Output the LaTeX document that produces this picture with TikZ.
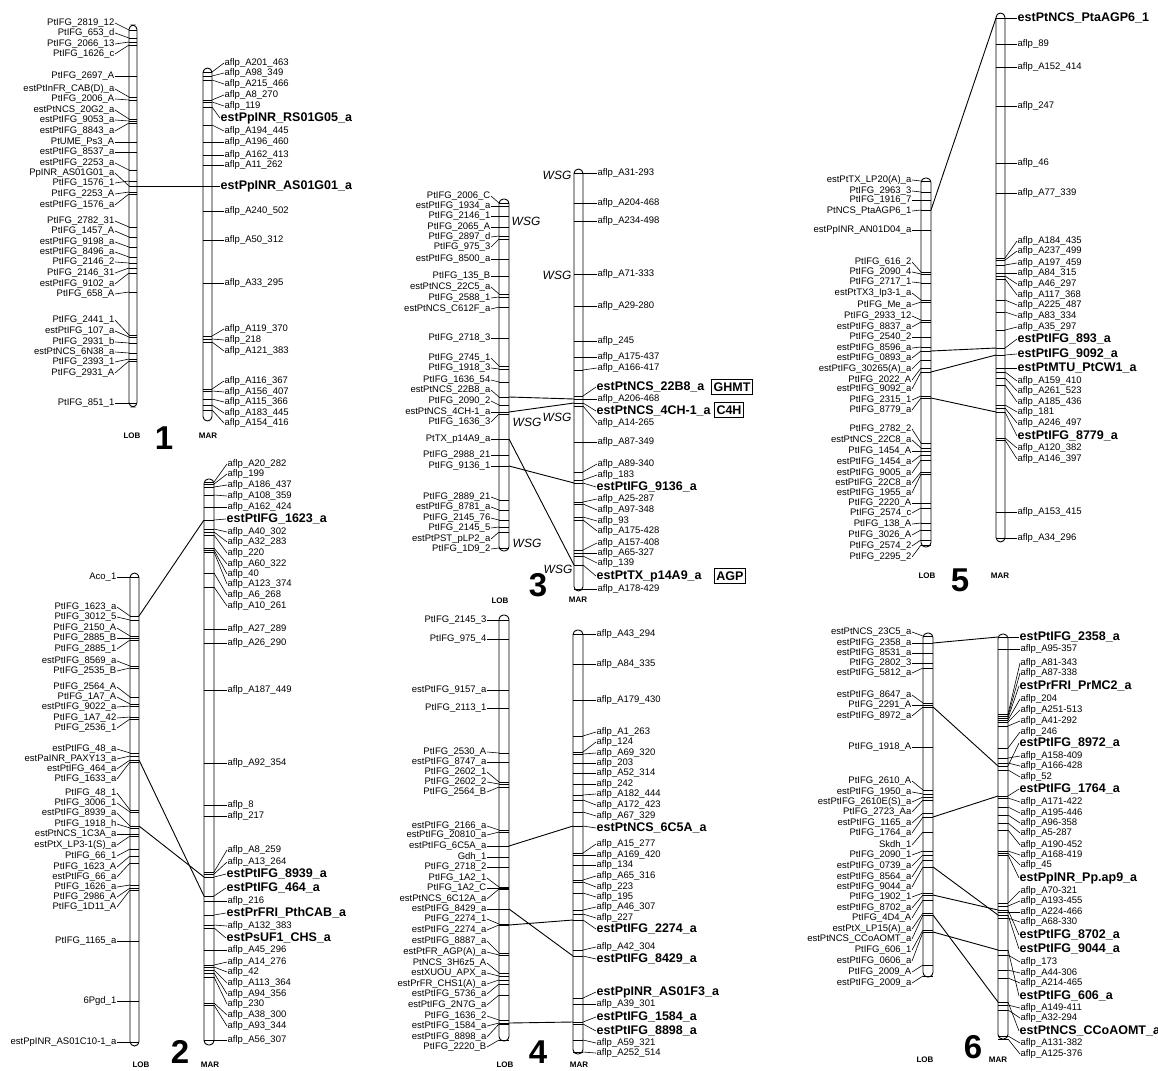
\documentclass[tikz,border=0pt]{standalone}
\usepackage{fontspec}
\setmainfont{Liberation Sans}
\newcommand\lmarks[5]{%
  \foreach \ly/\ty/\t [count=\i] in {#5}{%
    \node[sl,anchor=east] (#1\i) at (#2,\ly) {\t};
    \coordinate (#1t\i) at (#3,\ty);
    \draw[tickln] (#3,\ty) -- (#4,\ty);
    \draw[leader] (#1\i.east) -- (#1t\i);
  }}
\newcommand\rmarks[6]{%
  \foreach \ly/\ty/\t [count=\i] in {#6}{%
    \node[#2,anchor=west] (#1\i) at (#3,\ly) {\t};
    \coordinate (#1t\i) at (#5,\ty);
    \draw[tickln] (#4,\ty) -- (#5,\ty);
    \draw[leader] (#1t\i) -- (#1\i.west);
  }}
\begin{document}
\catcode`\_=12
\begin{tikzpicture}[x=1pt,y=-1pt,
  chrom/.style={draw,line width=0.9pt,rounded corners=4.5pt,inner sep=0pt},
  tickln/.style={line width=0.8pt},
  leader/.style={line width=0.6pt},
  link/.style={line width=0.9pt},
  sl/.style={font=\fontsize{9.5}{10}\selectfont,inner sep=0.5pt},
  bl/.style={font=\fontsize{12.5}{13}\selectfont\bfseries,inner sep=0.5pt},
  captxt/.style={font=\fontsize{8}{8}\selectfont\bfseries,inner sep=0pt},
  num/.style={font=\fontsize{33}{33}\selectfont\bfseries,inner sep=0pt},
  wsg/.style={font=\fontsize{12}{12}\selectfont\itshape,inner sep=0pt},
  gbox/.style={draw,line width=0.9pt,font=\fontsize{12.5}{13}\selectfont\bfseries,inner sep=1.8pt,minimum height=15pt}]
\fill[white] (0,0) rectangle (1158,1070);
\useasboundingbox (0,0) rectangle (1158,1070);

% ---------------- Panel 1 ----------------
\lmarks{aL}{115}{129}{137}{23/30/PtIFG_2819_12, 33/38/PtIFG_653_d, 44/42/PtIFG_2066_13, 54/45/PtIFG_1626_c, 76/76/PtIFG_2697_A, 89/97/estPtInFR_CAB(D)_a, 99/100/PtIFG_2006_A, 110/119/estPtNCS_20G2_a, 120/121/estPtIFG_9053_a, 131/123/estPtIFG_8843_a, 142/142/PtUME_Ps3_A, 152/152/estPtIFG_8537_a, 163/170/estPtIFG_2253_a, 173/186/PpINR_AS01G01_a, 183/181/PtIFG_1576_1, 194/192/PtIFG_2253_A, 205/194/estPtIFG_1576_a, 221/227/PtIFG_2782_31, 231/237/PtIFG_1457_A, 242/247/estPtIFG_9198_a, 252/257/estPtIFG_8496_a, 262/263/PtIFG_2146_2, 273/268/PtIFG_2146_31, 284/273/estPtIFG_9102_a, 294/292/PtIFG_658_A, 320/335/PtIFG_2441_1, 331/337/estPtIFG_107_a, 342/343/PtIFG_2931_b, 352/353/estPtNCS_6N38_a, 362/359/PtIFG_2393_1, 373/361/PtIFG_2931_A, 403/403/PtIFG_851_1}
\rmarks{aR}{sl}{224}{203}{212}{63/72/aflp_A201_463, 73/76/aflp_A98_349, 84/80/aflp_A215_466, 95/100/aflp_A8_270, 106/102/aflp_119, 131/125/aflp_A194_445, 142/142/aflp_A196_460, 155/155/aflp_A162_413, 165/165/aflp_A11_262, 211/211/aflp_A240_502, 240/240/aflp_A50_312, 283/283/aflp_A33_295, 329/336/aflp_A119_370, 340/339/aflp_218, 351/342/aflp_A121_383, 381/389/aflp_A116_367, 392/391/aflp_A156_407, 402/399/aflp_A115_366, 413/405/aflp_A183_445, 423/410/aflp_A154_416}
\rmarks{aB}{bl}{220}{203}{212}{118/107/estPpINR_RS01G05_a, 186/186/estPpINR_AS01G01_a}
\node[chrom,minimum width=8pt,minimum height=382pt] (chr1L) at (133,216) {};
\node[chrom,minimum width=9pt,minimum height=353pt] (chr1M) at (207.5,244.5) {};
\coordinate (k1a) at (137,186); \coordinate (k1b) at (203,186);
\draw[link] (k1a) -- (k1b);
\node[captxt] (c1L) at (132,436) {LOB};
\node[num] (n1) at (164,438) {1};
\node[captxt] (c1M) at (208,436) {MAR};

% ---------------- Panel 2 ----------------
\lmarks{bL}{117}{130}{139}{577/577/Aco_1, 607/616/PtIFG_1623_a, 617/620/PtIFG_3012_5, 628/636/PtIFG_2150_A, 638/638/PtIFG_2885_B, 649/640/PtIFG_2885_1, 661/666/estPtIFG_8569_a, 671/668/PtIFG_2535_B, 687/697/PtIFG_2564_A, 697/704/PtIFG_1A7_A, 707/706/estPtIFG_9022_a, 718/717/PtIFG_1A7_42, 728/719/PtIFG_2536_1, 749/753/estPtIFG_48_a, 759/756/estPaINR_PAXY13_a, 769/760/estPtIFG_464_a, 779/762/PtIFG_1633_a, 793/810/PtIFG_48_1, 803/812/PtIFG_3006_1, 813/826/estPtIFG_8939_a, 824/828/PtIFG_1918_h, 834/834/estPtNCS_1C3A_a, 845/836/estPtX_LP3-1(S)_a, 856/849/PtIFG_66_1, 867/856/PtIFG_1623_A, 877/863/estPtIFG_66_a, 887/885/PtIFG_1626_a, 897/888/PtIFG_2986_A, 907/890/PtIFG_1D11_A, 941/941/PtIFG_1165_a, 1001/1001/6Pgd_1, 1042/1042/estPpINR_AS01C10-1_a}
\rmarks{bR}{sl}{227}{204}{214}{464/482/aflp_A20_282, 474/484/aflp_199, 485/487/aflp_A186_437, 496/495/aflp_A108_359, 507/507/aflp_A162_424, 532/529/aflp_A40_302, 542/532/aflp_A32_283, 553/535/aflp_220, 564/548/aflp_A60_322, 574/550/aflp_40, 584/552/aflp_A123_374, 595/573/aflp_A6_268, 606/587/aflp_A10_261, 629/629/aflp_A27_289, 643/643/aflp_A26_290, 690/690/aflp_A187_449, 763/763/aflp_A92_354, 805/805/aflp_8, 816/816/aflp_217, 850/872/aflp_A8_259, 862/874/aflp_A13_264, 901/901/aflp_216, 926/925/aflp_A132_383, 950/950/aflp_A45_296, 962/965/aflp_A14_276, 972/967/aflp_42, 983/970/aflp_A113_364, 994/973/aflp_A94_356, 1004/977/aflp_230, 1015/1003/aflp_A38_300, 1026/1005/aflp_A93_344, 1040/1040/aflp_A56_307}
\rmarks{bB}{bl}{226}{204}{214}{519/520/estPtIFG_1623_a, 874/877/estPtIFG_8939_a, 888/896/estPtIFG_464_a, 913/915/estPrFRI_PthCAB_a, 938/928/estPsUF1_CHS_a}
\node[chrom,minimum width=9pt,minimum height=473pt] (chr2L) at (134.5,809.5) {};
\node[chrom,minimum width=10pt,minimum height=566pt] (chr2M) at (209,762) {};
\coordinate (k2a) at (139,616); \coordinate (k2b) at (204,520);
\coordinate (k2c) at (139,760); \coordinate (k2d) at (204,896);
\coordinate (k2e) at (139,826); \coordinate (k2f) at (204,877);
\draw[link] (k2a) -- (k2b);
\draw[link] (k2c) -- (k2d);
\draw[link] (k2e) -- (k2f);
\node[captxt] (c2L) at (141,1065) {LOB};
\node[num] (n2) at (180,1052) {2};
\node[captxt] (c2M) at (210,1065) {MAR};

% ---------------- Panel 3 ----------------
\lmarks{cL}{491}{499}{509}{196/203/PtIFG_2006_C, 206/206/estPtIFG_1934_a, 216/216/PtIFG_2146_1, 227/227/PtIFG_2065_A, 237/236/PtIFG_2897_d, 247/239/PtIFG_975_3, 259/259/estPtIFG_8500_a, 276/276/PtIFG_135_B, 287/294/estPtNCS_22C5_a, 298/297/PtIFG_2588_1, 309/307/estPtNCS_C612F_a, 338/338/PtIFG_2718_3, 358/366/PtIFG_2745_1, 368/369/PtIFG_1918_3, 380/382/PtIFG_1636_54, 390/397/estPtNCS_22B8_a, 401/405/PtIFG_2090_2, 412/412/estPtNCS_4CH-1_a, 422/414/PtIFG_1636_3, 439/439/PtTX_p14A9_a, 455/455/PtIFG_2988_21, 466/466/PtIFG_9136_1, 497/500/PtIFG_2889_21, 507/510/estPtIFG_8781_a, 518/520/PtIFG_2145_76, 528/527/PtIFG_2145_5, 539/532/estPtPST_pLP2_a, 549/548/PtIFG_1D9_2}
\rmarks{cR}{sl}{597}{574}{583}{173/173/aflp_A31-293, 203/203/aflp_A204-468, 221/221/aflp_A234-498, 274/274/aflp_A71-333, 306/306/aflp_A29-280, 341/341/aflp_245, 357/357/aflp_A175-437, 368/370/aflp_A166-417, 399/399/aflp_A206-468, 423/406/aflp_A14-265, 442/442/aflp_A87-349, 464/472/aflp_A89-340, 475/480/aflp_183, 499/502/aflp_A25-287, 510/504/aflp_A97-348, 521/517/aflp_93, 531/520/aflp_A175-428, 543/550/aflp_A157-408, 553/553/aflp_A65-327, 563/556/aflp_139, 589/589/aflp_A178-429}
\rmarks{cB}{bl}{596}{574}{583}{387/396/estPtNCS_22B8_a, 411/403/estPtNCS_4CH-1_a, 487/483/estPtIFG_9136_a, 576/565/estPtTX_p14A9_a}
\node[chrom,minimum width=10pt,minimum height=352pt] (chr3L) at (504,375) {};
\node[chrom,minimum width=9pt,minimum height=422pt] (chr3M) at (578.5,380) {};
\coordinate (k3a) at (509,397); \coordinate (k3b) at (574,399);
\coordinate (k3c) at (509,412); \coordinate (k3d) at (574,403);
\coordinate (k3e) at (509,466); \coordinate (k3f) at (574,483);
\coordinate (k3g) at (509,439); \coordinate (k3h) at (574,565);
\draw[link] (k3a) -- (k3b);
\draw[link] (k3c) -- (k3d);
\draw[link] (k3e) -- (k3f);
\draw[link] (k3g) -- (k3h);
\node[wsg] (w1) at (526,221) {WSG};
\node[wsg] (w2) at (557,175) {WSG};
\node[wsg] (w3) at (557,275) {WSG};
\node[wsg] (w4) at (527,422) {WSG};
\node[wsg] (w5) at (557,417) {WSG};
\node[wsg] (w6) at (527,543) {WSG};
\node[wsg] (w7) at (558,569) {WSG};
\node[gbox] (g1) at (732,387) {GHMT};
\node[gbox] (g2) at (729,410) {C4H};
\node[gbox] (g3) at (730,576) {AGP};
\node[captxt] (c3L) at (500,601) {LOB};
\node[num] (n3) at (538,585) {3};
\node[captxt] (c3M) at (578,600) {MAR};

% ---------------- Panel 4 ----------------
\lmarks{dL}{487}{499}{509}{620/620/PtIFG_2145_3, 639/639/PtIFG_975_4, 690/690/estPtIFG_9157_a, 708/708/PtIFG_2113_1, 752/753/PtIFG_2530_A, 762/762/estPtIFG_8747_a, 772/782/PtIFG_2602_1, 782/784/PtIFG_2602_2, 792/787/PtIFG_2564_B, 826/830/estPtIFG_2166_a, 835/832/estPtIFG_20810_a, 846/846/estPtIFG_6C5A_a, 857/857/Gdh_1, 867/867/PtIFG_2718_2, 878/887/PtIFG_1A2_1, 888/888/PtIFG_1A2_C, 899/889/estPtNCS_6C12A_a, 909/909/estPtIFG_8429_a, 919/924/PtIFG_2274_1, 930/925/estPtIFG_2274_a, 941/953/estPtIFG_8887_a, 952/955/estPtFR_AGP(A)_a, 963/973/PtNCS_3H6z5_A, 973/976/estXUOU_APX_a, 984/980/estPrFR_CHS1(A)_a, 994/984/estPtIFG_5736_a, 1005/995/estPtIFG_2N7G_a, 1016/1020/PtIFG_1636_2, 1026/1023/estPtIFG_1584_a, 1037/1024/estPtIFG_8898_a, 1047/1040/PtIFG_2220_B}
\rmarks{dR}{sl}{596}{573}{583}{634/634/aflp_A43_294, 664/664/aflp_A84_335, 700/700/aflp_A179_430, 732/736/aflp_A1_263, 742/752/aflp_124, 753/754/aflp_A69_320, 763/763/aflp_203, 773/773/aflp_A52_314, 784/784/aflp_242, 794/795/aflp_A182_444, 805/800/aflp_A172_423, 816/812/aflp_A67_329, 844/853/aflp_A15_277, 855/855/aflp_A169_420, 865/865/aflp_134, 876/880/aflp_A65_316, 887/882/aflp_223, 897/893/aflp_195, 907/910/aflp_A46_307, 918/914/aflp_227, 947/950/aflp_A42_304, 1004/1004/aflp_A39_301, 1043/1040/aflp_A59_321, 1053/1052/aflp_A252_514}
\rmarks{dB}{bl}{596}{573}{583}{828/826/estPtNCS_6C5A_a, 929/920/estPtIFG_2274_a, 959/956/estPtIFG_8429_a, 992/998/estPpINR_AS01F3_a, 1017/1022/estPtIFG_1584_a, 1031/1024/estPtIFG_8898_a}
\node[chrom,minimum width=10pt,minimum height=426pt] (chr4L) at (504,828) {};
\node[chrom,minimum width=10pt,minimum height=424pt] (chr4M) at (578,842) {};
\coordinate (k4a) at (509,846); \coordinate (k4b) at (573,826);
\coordinate (k4c) at (509,909); \coordinate (k4d) at (573,956);
\coordinate (k4e) at (509,925); \coordinate (k4f) at (573,920);
\coordinate (k4g) at (509,1023); \coordinate (k4h) at (573,1022);
\draw[link] (k4a) -- (k4b);
\draw[link] (k4c) -- (k4d);
\draw[link] (k4e) -- (k4f);
\draw[link] (k4g) -- (k4h);
\node[captxt] (c4L) at (505,1065) {LOB};
\node[num] (n4) at (538,1052) {4};
\node[captxt] (c4M) at (579,1065) {MAR};

% ---------------- Panel 5 ----------------
\lmarks{eL}{912}{921}{931}{180/181/estPtTX_LP20(A)_a, 191/192/PtIFG_2963_3, 200/200/PtIFG_1916_7, 211/210/PtNCS_PtaAGP6_1, 230/230/estPpINR_AN01D04_a, 262/272/PtIFG_616_2, 272/274/PtIFG_2090_4, 282/283/PtIFG_2717_1, 293/300/estPtTX3_Ip3-1_a, 305/302/PtIFG_Me_a, 316/320/PtIFG_2933_12, 327/322/estPtIFG_8837_a, 337/337/PtIFG_2540_2, 348/347/estPtIFG_8596_a, 358/351/estPtIFG_0893_a, 369/360/estPtIFG_30265(A)_a, 380/368/PtIFG_2022_A, 389/372/estPtIFG_9092_a, 400/396/PtIFG_2315_1, 410/398/PtIFG_8779_a, 429/443/PtIFG_2782_2, 440/448/estPtNCS_22C8_a, 451/451/PtIFG_1454_A, 462/455/estPtIFG_1454_a, 473/460/estPtIFG_9005_a, 483/472/estPtIFG_22C8_a, 493/474/estPtIFG_1955_a, 503/503/PtIFG_2220_A, 513/508/PtIFG_2574_c, 524/523/PtIFG_138_A, 535/530/PtIFG_3026_A, 546/540/PtIFG_2574_2, 557/545/PtIFG_2295_2}
\rmarks{eR}{sl}{1017}{996}{1005}{44/44/aflp_89, 67/67/aflp_A152_414, 106/106/aflp_247, 163/163/aflp_46, 193/193/aflp_A77_339, 241/258/aflp_A184_435, 251/260/aflp_A237_499, 263/265/aflp_A197_459, 273/273/aflp_A84_315, 284/276/aflp_A46_297, 295/279/aflp_A117_368, 305/300/aflp_A225_487, 316/312/aflp_A83_334, 327/330/aflp_A35_297, 381/372/aflp_A159_410, 391/378/aflp_A261_523, 402/385/aflp_A185_436, 412/405/aflp_181, 423/408/aflp_A246_497, 448/438/aflp_A120_382, 459/440/aflp_A146_397, 512/512/aflp_A153_415, 538/538/aflp_A34_296}
\rmarks{eB}{bl}{1017}{996}{1005}{18/18/estPtNCS_PtaAGP6_1, 339/348/estPtIFG_893_a, 354/355/estPtIFG_9092_a, 368/368/estPtMTU_PtCW1_a, 436/412/estPtIFG_8779_a}
\node[chrom,minimum width=10pt,minimum height=369pt] (chr5L) at (926,362.5) {};
\node[chrom,minimum width=9pt,minimum height=529pt] (chr5M) at (1000.5,277.5) {};
\coordinate (k5a) at (931,210); \coordinate (k5b) at (996,18);
\coordinate (k5c) at (931,351); \coordinate (k5d) at (996,348);
\coordinate (k5e) at (931,372); \coordinate (k5f) at (996,355);
\coordinate (k5g) at (931,398); \coordinate (k5h) at (996,412);
\draw[link] (k5a) -- (k5b);
\draw[link] (k5c) -- (k5d);
\draw[link] (k5e) -- (k5f);
\draw[link] (k5g) -- (k5h);
\node[captxt] (c5L) at (927,576) {LOB};
\node[num] (n5) at (960,580) {5};
\node[captxt] (c5M) at (1000,576) {MAR};

% ---------------- Panel 6 ----------------
\lmarks{fL}{912}{923}{933}{632/636/estPtNCS_23C5_a, 643/643/estPtIFG_2358_a, 653/653/estPtIFG_8531_a, 663/663/PtIFG_2802_3, 673/668/estPtIFG_5812_a, 695/703/estPtIFG_8647_a, 705/705/PtIFG_2291_A, 716/707/estPtIFG_8972_a, 747/747/PtIFG_1918_A, 781/790/PtIFG_2610_A, 792/794/estPtIFG_1950_a, 802/797/estPtIFG_2610E(S)_a, 812/800/PtIFG_2723_Aa, 823/813/estPtIFG_1165_a, 833/817/PtIFG_1764_a, 845/832/Skdh_1, 855/851/PtIFG_2090_1, 866/855/estPtIFG_0739_a, 877/860/estPtIFG_8564_a, 887/867/estPtIFG_9044_a, 897/893/PtIFG_1902_1, 908/895/estPtIFG_8702_a, 918/900/PtIFG_4D4_A, 929/913/estPtX_LP15(A)_a, 939/915/estPtNCS_CCoAOMT_a, 950/930/PtIFG_606_1, 961/932/estPtIFG_0606_a, 972/965/PtIFG_2009_A, 983/976/estPtIFG_2009_a}
\rmarks{fR}{sl}{1020}{998}{1008}{649/649/aflp_A95-357, 663/714/aflp_A81-343, 673/716/aflp_A87-338, 699/720/aflp_204, 710/722/aflp_A251-513, 721/726/aflp_A41-292, 732/748/aflp_246, 756/758/aflp_A158-409, 766/763/aflp_A166-428, 777/770/aflp_52, 802/798/aflp_A171-422, 813/807/aflp_A195-446, 823/815/aflp_A96-358, 833/823/aflp_A5-287, 845/830/aflp_A190-452, 855/851/aflp_A168-419, 865/853/aflp_45, 891/903/aflp_A70-321, 901/906/aflp_A193-455, 912/912/aflp_A224-466, 922/918/aflp_A68-330, 962/955/aflp_173, 973/970/aflp_A44-306, 983/978/aflp_A214-465, 1008/1005/aflp_A149-411, 1018/1010/aflp_A32-294, 1043/1036/aflp_A131-382, 1054/1039/aflp_A125-376}
\rmarks{fB}{bl}{1019}{998}{1008}{637/637/estPtIFG_2358_a, 686/718/estPrFRI_PrMC2_a, 743/766/estPtIFG_8972_a, 789/796/estPtIFG_1764_a, 878/855/estPpINR_Pp.ap9_a, 935/910/estPtIFG_8702_a, 949/915/estPtIFG_9044_a, 996/950/estPtIFG_606_a, 1031/1002/estPtNCS_CCoAOMT_a}
\node[chrom,minimum width=10pt,minimum height=344pt] (chr6L) at (928,805) {};
\node[chrom,minimum width=10pt,minimum height=405pt] (chr6M) at (1003,836.5) {};
\coordinate (k6a) at (933,643); \coordinate (k6b) at (998,637);
\coordinate (k6c) at (933,707); \coordinate (k6d) at (998,766);
\coordinate (k6e) at (933,817); \coordinate (k6f) at (998,796);
\coordinate (k6g) at (933,867); \coordinate (k6h) at (998,915);
\coordinate (k6i) at (933,895); \coordinate (k6j) at (998,910);
\coordinate (k6k) at (933,915); \coordinate (k6l) at (998,1002);
\coordinate (k6m) at (933,932); \coordinate (k6n) at (998,950);
\draw[link] (k6a) -- (k6b);
\draw[link] (k6c) -- (k6d);
\draw[link] (k6e) -- (k6f);
\draw[link] (k6g) -- (k6h);
\draw[link] (k6i) -- (k6j);
\draw[link] (k6k) -- (k6l);
\draw[link] (k6m) -- (k6n);
\node[captxt] (c6L) at (925,1060) {LOB};
\node[num] (n6) at (973,1047) {6};
\node[captxt] (c6M) at (998,1060) {MAR};
\end{tikzpicture}
\end{document}
